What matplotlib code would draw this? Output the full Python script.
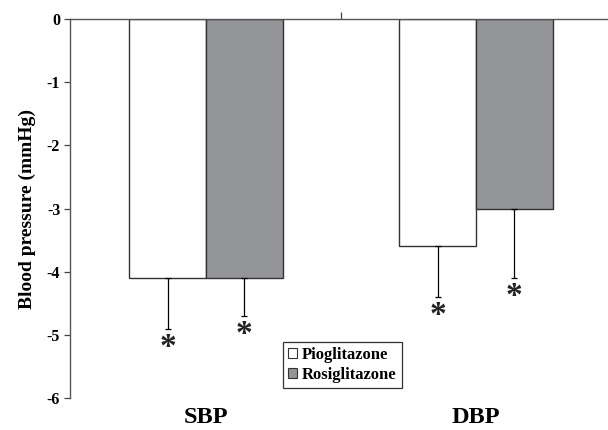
import numpy as np
import matplotlib.pyplot as plt
from matplotlib.patches import Patch

groups = ["SBP", "DBP"]
series = ["Pioglitazone", "Rosiglitazone"]
pio = [-4.1, -3.6]
rosi = [-4.1, -3.0]
pio_err = [0.8, 0.8]
rosi_err = [0.6, 1.1]
colors = ["white", "#939598"]

plt.rcParams['font.family'] = ['Liberation Serif', 'DejaVu Serif']
plt.rcParams['font.weight'] = 'bold'

fig = plt.figure(figsize=(6.08, 4.30), dpi=100)
ax = fig.add_axes([0.115, 0.074, 0.885, 0.882])

x = np.arange(len(groups))
w = 0.285
edge = "#333333"
for vals, errs, off, col in [(pio, pio_err, -w / 2, colors[0]), (rosi, rosi_err, w / 2, colors[1])]:
    ax.bar(x + off, vals, w, color=col, edgecolor=edge, linewidth=1.0, zorder=2)
    ax.errorbar(x + off, vals, yerr=[errs, [0] * len(errs)], fmt='none',
                ecolor='black', elinewidth=0.9, capsize=2.5, capthick=0.9, zorder=3)
    for xi, v, e in zip(x + off, vals, errs):
        ax.text(xi, v - e - 0.05, "*", ha='center', va='top', fontsize=24,
                fontweight='bold', color='#222222')

ax.set_xlim(-0.504, 1.489)
ax.set_ylim(-6, 0)
ax.set_yticks(range(-6, 1))
ax.set_yticklabels([str(t) for t in range(-6, 1)], fontsize=11.5, fontweight='bold')
ax.tick_params(axis='y', direction='out', length=4, width=0.9, colors='#444444',
               labelcolor='black', pad=3)

ax.xaxis.tick_top()
ax.set_xticks([0.5])
ax.set_xticklabels([""])
ax.tick_params(axis='x', direction='out', length=5, width=0.9, colors='#444444')

for s in ['right', 'bottom']:
    ax.spines[s].set_visible(False)
for s in ['left', 'top']:
    ax.spines[s].set_color('#555555')
    ax.spines[s].set_linewidth(1.0)

for xi, g in zip(x, groups):
    ax.text(xi, -0.052, g, transform=ax.get_xaxis_transform(), ha='center', va='center',
            fontsize=17.5, fontweight='bold')

ax.set_ylabel("Blood pressure (mmHg)", fontsize=14, fontweight='bold', labelpad=8)

handles = [Patch(facecolor=c, edgecolor='#333333', linewidth=0.8) for c in colors]
leg = fig.legend(handles, series, loc='center', bbox_to_anchor=(0.5633, 0.151),
                 prop={'family': 'Liberation Serif', 'weight': 'bold', 'size': 12},
                 handlelength=0.55, handleheight=0.55, handletextpad=0.3,
                 labelspacing=0.25, borderpad=0.3, borderaxespad=0, frameon=True,
                 fancybox=False, edgecolor='#333333', framealpha=1)
leg.get_frame().set_linewidth(0.9)

fig.savefig("out.png", dpi=100)
